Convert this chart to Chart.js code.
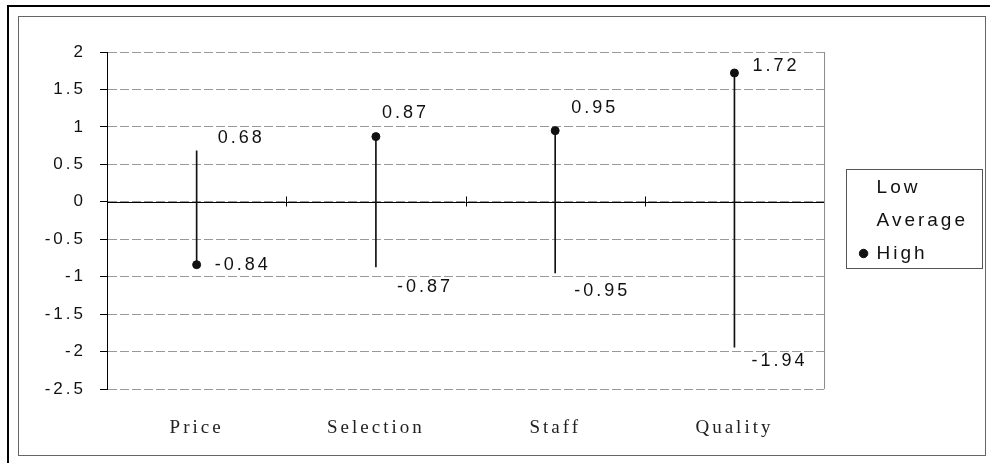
<!DOCTYPE html>
<html>
<head>
<meta charset="utf-8">
<script src="https://cdn.jsdelivr.net/npm/chart.js@4.4.1/dist/chart.umd.min.js"></script>
<style>
  body { margin: 0; background: #fff; width: 990px; height: 463px; overflow: hidden; position: relative; }
  #outer { position: absolute; left: 7px; top: 5px; width: 990px; height: 470px; border-top: 2px solid #000; border-left: 2px solid #000; }
  #frame { position: absolute; left: 18px; top: 16px; width: 966px; height: 438px; border: 1px solid #666; }
  canvas { display: block; }
</style>
</head>
<body>
<div id="outer"></div>
<div id="frame"><canvas id="hlChart" width="966" height="438"></canvas></div>
<script>
const categories = ["Price", "Selection", "Staff", "Quality"];
const lowValues = [0.68, -0.87, -0.95, -1.94];
const averageValues = [null, null, null, null];
const highValues = [-0.84, 0.87, 0.95, 1.72];
const yTickValues = [2, 1.5, 1, 0.5, 0, -0.5, -1, -1.5, -2, -2.5];

// label offsets from the point, in px (dx, dy)
const lowLabelOffsets = [[21, -13], [21, 20], [19, 18], [17, 14]];
const highLabelOffsets = [[18, 0], [6, -24], [16, -23], [18, -7]];

const SANS = "'Liberation Sans', Arial, sans-serif";
const SERIF = "'Liberation Serif', 'Times New Roman', serif";

const spacing = {
    id: "spacing",
    beforeLayout(chart) { chart.ctx.letterSpacing = "3px"; },
    beforeDraw(chart) { chart.ctx.letterSpacing = "3px"; }
};

const axisDecor = {
    id: "axisDecor",
    beforeDatasetsDraw(chart) {
        const { ctx, chartArea: a, scales: { x, y } } = chart;
        ctx.save();
        // right edge of plot area
        ctx.strokeStyle = "#888";
        ctx.lineWidth = 1;
        ctx.beginPath();
        ctx.moveTo(a.right + 0.5, a.top);
        ctx.lineTo(a.right + 0.5, a.bottom);
        ctx.stroke();
        // zero line with category ticks
        const y0 = Math.round(y.getPixelForValue(0)) + 0.5;
        ctx.strokeStyle = "#000";
        ctx.beginPath();
        ctx.moveTo(a.left, y0);
        ctx.lineTo(a.right, y0);
        for (let i = 0; i < categories.length - 1; i++) {
            const bx = Math.round((x.getPixelForValue(i) + x.getPixelForValue(i + 1)) / 2) + 0.5;
            ctx.moveTo(bx, y0 - 6);
            ctx.lineTo(bx, y0 + 4);
        }
        ctx.stroke();
        ctx.restore();
    }
};

const valueLabels = {
    id: "valueLabels",
    afterDatasetsDraw(chart) {
        const ctx = chart.ctx;
        ctx.save();
        ctx.font = "18px " + SANS;
        ctx.fillStyle = "#111";
        ctx.textAlign = "left";
        ctx.textBaseline = "middle";
        [[0, lowValues, lowLabelOffsets], [2, highValues, highLabelOffsets]].forEach(([di, vals, offs]) => {
            const meta = chart.getDatasetMeta(di);
            meta.data.forEach((pt, i) => {
                ctx.fillText(vals[i].toFixed(2), pt.x + offs[i][0], pt.y + offs[i][1]);
            });
        });
        ctx.restore();
    }
};

const legendBox = {
    id: "legendBox",
    afterDraw(chart) {
        const hb = chart.legend.legendHitBoxes;
        if (!hb || !hb.length) return;
        const ctx = chart.ctx;
        const x0 = hb[0].left - 14;
        const x1 = Math.max(...hb.map(h => h.left + h.width)) + 14;
        const y0 = hb[0].top - 9;
        const last = hb[hb.length - 1];
        const y1 = last.top + last.height + 5;
        ctx.save();
        ctx.strokeStyle = "#555";
        ctx.lineWidth = 1;
        ctx.strokeRect(Math.round(x0) + 0.5, Math.round(y0) + 0.5, Math.round(x1 - x0), Math.round(y1 - y0));
        ctx.restore();
    }
};

new Chart(document.getElementById("hlChart"), {
    type: "line",
    data: {
        labels: categories,
        datasets: [
            {
                label: "Low",
                data: lowValues,
                showLine: false,
                pointRadius: 0,
                backgroundColor: "rgba(0,0,0,0)",
                borderColor: "rgba(0,0,0,0)"
            },
            {
                label: "Average",
                data: averageValues,
                showLine: false,
                pointRadius: 0,
                backgroundColor: "rgba(0,0,0,0)",
                borderColor: "rgba(0,0,0,0)"
            },
            {
                label: "High",
                data: highValues,
                showLine: false,
                pointStyle: "circle",
                pointRadius: 4,
                backgroundColor: "#111",
                borderColor: "#111"
            },
            {
                type: "bar",
                label: "range",
                data: lowValues.map((v, i) => [v, highValues[i]]),
                backgroundColor: "#111",
                barThickness: 1,
                order: 1
            }
        ]
    },
    options: {
        responsive: false,
        animation: false,
        layout: { padding: { top: 35, left: 0, right: 7, bottom: 0 } },
        plugins: {
            tooltip: { enabled: false },
            legend: {
                position: "right",
                fullSize: false,
                labels: {
                    filter: item => item.datasetIndex < 3,
                    usePointStyle: true,
                    boxWidth: 7,
                    boxHeight: 6,
                    padding: 14,
                    color: "#111",
                    font: { family: SANS, size: 19 }
                }
            }
        },
        scales: {
            x: {
                offset: true,
                grid: { display: false },
                border: { display: false },
                ticks: { color: "#222", padding: 20, font: { family: SERIF, size: 19 } },
                afterFit: s => { s.height = 66; }
            },
            y: {
                min: -2.5,
                max: 2,
                afterBuildTicks: s => { s.ticks = yTickValues.map(v => ({ value: v })); },
                grid: { color: "#999", tickColor: "#000", tickLength: 7 },
                border: { color: "#000", width: 1, dash: [9, 3] },
                ticks: {
                    color: "#111",
                    padding: 14,
                    font: { family: SANS, size: 17 },
                    callback: v => String(+v.toFixed(2))
                },
                afterFit: s => { s.width = 88; }
            },
            gap: {
                type: "linear",
                position: "right",
                grid: { display: false },
                border: { display: false },
                ticks: { display: false },
                afterFit: s => { s.width = 22; }
            }
        }
    },
    plugins: [spacing, axisDecor, valueLabels, legendBox]
});
</script>
</body>
</html>
